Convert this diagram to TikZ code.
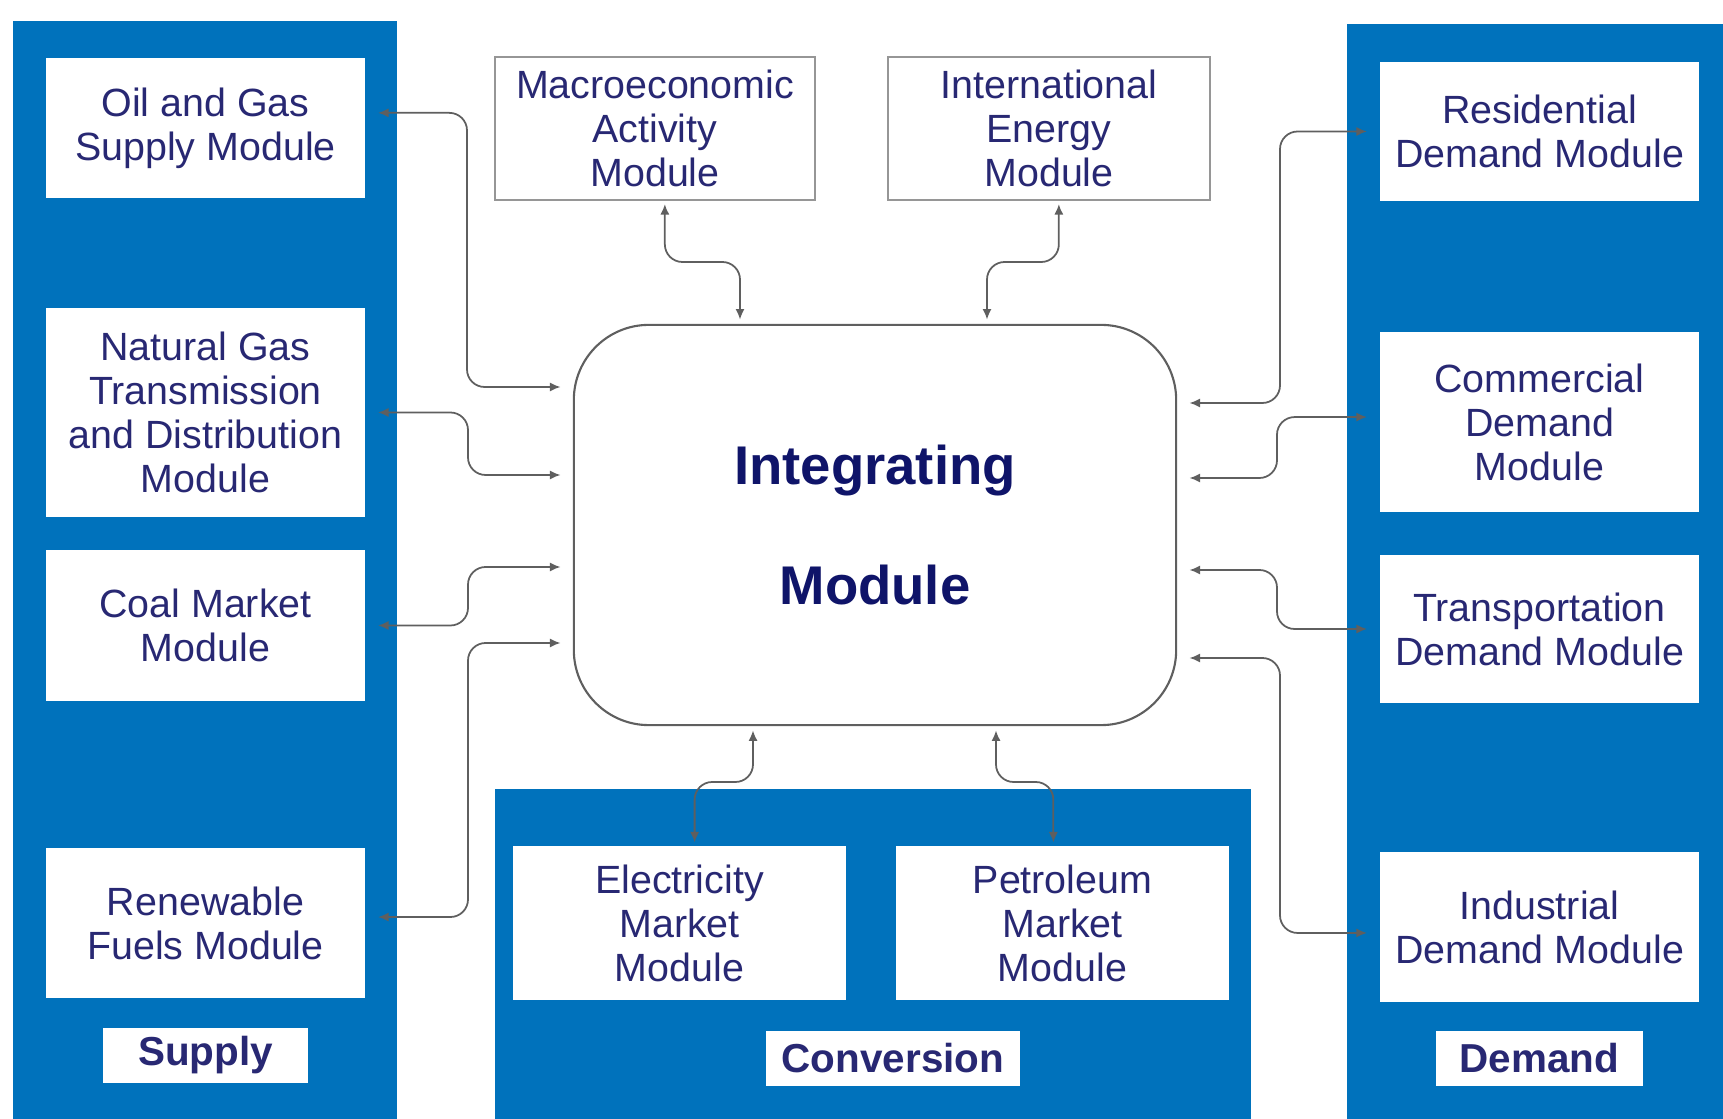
\documentclass[tikz,border=0pt]{standalone}
\usepackage{fontspec}
\setmainfont{Liberation Sans}
\usetikzlibrary{arrows.meta}

\definecolor{panelblue}{RGB}{0,114,188}
\definecolor{modnavy}{RGB}{40,40,115}
\definecolor{intnavy}{RGB}{15,20,105}
\definecolor{linkgray}{RGB}{95,95,95}
\definecolor{boxgray}{RGB}{150,150,150}

\tikzset{
    module/.style={fill=white, text=modnavy, align=center, inner sep=0pt,
        font=\fontsize{11.2}{12.5}\selectfont},
    topmodule/.style={module, draw=boxgray, line width=0.7pt},
    sectorlabel/.style={fill=white, text=modnavy, inner sep=0pt,
        font=\fontsize{11.5}{13}\selectfont\bfseries},
    link/.style={draw=linkgray, line width=0.5pt, rounded corners=5pt,
        {Latex[length=3pt,width=2.6pt]}-{Latex[length=3pt,width=2.6pt]},
        shorten <=3.5pt, shorten >=3.5pt},
    vlink/.style={link, shorten <=0.8pt, shorten >=1.2pt}
}

\begin{document}
\begin{tikzpicture}[x=0.01cm, y=-0.01cm]
    \useasboundingbox (0,0) rectangle (1723,1119);

    \fill[panelblue] (13,21) rectangle (397,1119);
    \fill[panelblue] (1347,24) rectangle (1723,1119);
    \fill[panelblue] (495,789) rectangle (1251,1119);

    \node[module, minimum width=3.19cm, minimum height=1.40cm] (oil) at (205.5,128) {Oil and Gas\\Supply Module};
    \node[module, minimum width=3.19cm, minimum height=2.09cm] (natgas) at (205.5,412.5) {Natural Gas\\Transmission\\and Distribution\\Module};
    \node[module, minimum width=3.19cm, minimum height=1.51cm] (coal) at (205.5,625.5) {Coal Market\\Module};
    \node[module, minimum width=3.19cm, minimum height=1.50cm] (renew) at (205.5,923) {Renewable\\Fuels Module};
    \node[sectorlabel, minimum width=2.05cm, minimum height=0.55cm] (supply) at (205.5,1055.5) {Supply};

    \node[module, minimum width=3.19cm, minimum height=1.39cm] (res) at (1539.5,131.5) {Residential\\Demand Module};
    \node[module, minimum width=3.19cm, minimum height=1.80cm] (com) at (1539.5,422) {Commercial\\Demand\\Module};
    \node[module, minimum width=3.19cm, minimum height=1.48cm] (trans) at (1539.5,629) {Transportation\\Demand Module};
    \node[module, minimum width=3.19cm, minimum height=1.50cm] (ind) at (1539.5,927) {Industrial\\Demand Module};
    \node[sectorlabel, minimum width=2.07cm, minimum height=0.55cm] (demand) at (1539.5,1058.5) {Demand};

    \node[topmodule, minimum width=3.20cm, minimum height=1.43cm] (macro) at (655,128.5) {Macroeconomic\\Activity\\Module};
    \node[topmodule, minimum width=3.22cm, minimum height=1.43cm] (intl) at (1049,128.5) {International\\Energy\\Module};

    \node[module, minimum width=3.33cm, minimum height=1.54cm] (elec) at (679.5,923) {Electricity\\Market\\Module};
    \node[module, minimum width=3.33cm, minimum height=1.54cm] (petro) at (1062.5,923) {Petroleum\\Market\\Module};
    \node[sectorlabel, minimum width=2.54cm, minimum height=0.55cm] (conv) at (893,1058.5) {Conversion};

    \node[draw=linkgray, line width=0.6pt, fill=white, rounded corners=0.75cm,
        minimum width=6.02cm, minimum height=4.00cm, align=center, text=intnavy,
        font=\fontsize{15.5}{34}\selectfont\bfseries] (integ) at (875,525) {Integrating\\Module};

    \coordinate (oilk) at (467,387);
    \coordinate (natk) at (468,475);
    \coordinate (coalk) at (468,567);
    \coordinate (renk) at (468,643);
    \draw[link] ([yshift=4.3pt]oil.east) -| (oilk) -- (oilk -| integ.west);
    \draw[link] (natgas.east) -| (natk) -- (natk -| integ.west);
    \draw[link] (coal.east) -| (coalk) -- (coalk -| integ.west);
    \draw[link] ([yshift=1.7pt]renew.east) -| (renk) -- (renk -| integ.west);

    \coordinate (resk) at (1280,403);
    \coordinate (comk) at (1277,478);
    \coordinate (transk) at (1277,570);
    \coordinate (indk) at (1280,658);
    \draw[link] (res.west) -| (resk) -- (resk -| integ.east);
    \draw[link] ([yshift=1.4pt]com.west) -| (comk) -- (comk -| integ.east);
    \draw[link] (trans.west) -| (transk) -- (transk -| integ.east);
    \draw[link] ([yshift=-1.7pt]ind.west) -| (indk) -- (indk -| integ.east);

    \coordinate (mack) at (740,262);
    \coordinate (intlk) at (987,262);
    \draw[vlink] ([xshift=2.8pt]macro.south) |- (mack) -- (mack |- integ.north);
    \draw[vlink] ([xshift=2.8pt]intl.south) |- (intlk) -- (intlk |- integ.north);

    \coordinate (elek) at (753,782);
    \coordinate (petk) at (996,782);
    \draw[vlink] ([xshift=4.3pt]elec.north) |- (elek) -- (elek |- integ.south);
    \draw[vlink] ([xshift=-2.6pt]petro.north) |- (petk) -- (petk |- integ.south);

\end{tikzpicture}
\end{document}
